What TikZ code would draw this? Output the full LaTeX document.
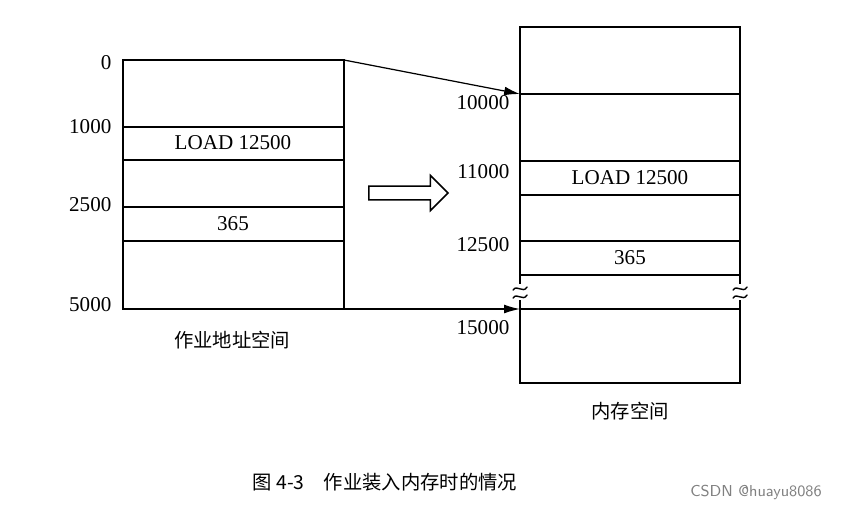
\documentclass[tikz,border=0pt]{standalone}
\usepackage{fontspec}
\setmainfont{Liberation Serif}
\newfontfamily\cjk{Noto Sans CJK SC}
\usetikzlibrary{arrows.meta,shapes.arrows}
\tikzset{
  addr/.style={anchor=east, font=\fontsize{12}{14}\selectfont},
  cell/.style={font=\fontsize{12}{14}\selectfont},
  captext/.style={font=\cjk\fontsize{11}{13}\selectfont},
  brk/.style={thick, line cap=round},
}
\begin{document}
\begin{tikzpicture}[x=0.02cm, y=-0.02cm, line width=0.9pt]
\useasboundingbox (0,0) rectangle (856,508);
% job address space
\draw (123,60) rectangle (344,309);
\foreach \yy in {127,160,207,241} \draw (123,\yy) -- (344,\yy);
\node[addr] (a0) at (118,63) {0};
\node[addr] (a1) at (118,127) {1000};
\node[addr] (a2) at (118,205) {2500};
\node[addr] (a3) at (118,305) {5000};
\node[cell] (load1) at (233,143) {LOAD 12500};
\node[cell] (v1) at (233,224) {365};
\node[captext] (jobcap) at (232,340) {作业地址空间};
% memory
\draw (520,27) rectangle (740,383);
\foreach \yy in {94,161,195,241,275,309} \draw (520,\yy) -- (740,\yy);
\node[addr] (m0) at (516,103) {10000};
\node[addr] (m1) at (516,172) {11000};
\node[addr] (m2) at (516,245) {12500};
\node[addr] (m3) at (516,328) {15000};
\node[cell] (load2) at (630,178) {LOAD 12500};
\node[cell] (v2) at (630,258) {365};
\node[captext] (memcap) at (630,411) {内存空间};
% break marks
\foreach \xx in {520,740} {
  \fill[white] (\xx-3,284) rectangle (\xx+3,300);
  \draw[brk] (\xx-7,290) .. controls (\xx-3,284) and (\xx+3,294) .. (\xx+7,287);
  \draw[brk] (\xx-7,298) .. controls (\xx-3,292) and (\xx+3,302) .. (\xx+7,295);
}
% mapping
\coordinate (jtop) at (344,60);
\coordinate (jbot) at (344,309);
\coordinate (mtop) at (520,94);
\coordinate (mbot) at (520,309);
\draw[-{Latex[length=9pt,width=5pt]}, line width=0.7pt] (jtop) -- (mtop);
\draw[-{Latex[length=9pt,width=5pt]}, line width=0.7pt] (jbot) -- (mbot);
\node[single arrow, draw, line width=0.9pt, minimum width=20pt, single arrow head extend=3pt,
  minimum height=45pt, inner sep=1.5pt] (load) at (405,193) {};
\node[captext] (fig) at (385,482) {图 4-3\quad 作业装入内存时的情况};
\node[font=\sffamily\fontsize{9}{11}\selectfont, text=gray] (mark) at (756,492) {CSDN @huayu8086};
\end{tikzpicture}
\end{document}
